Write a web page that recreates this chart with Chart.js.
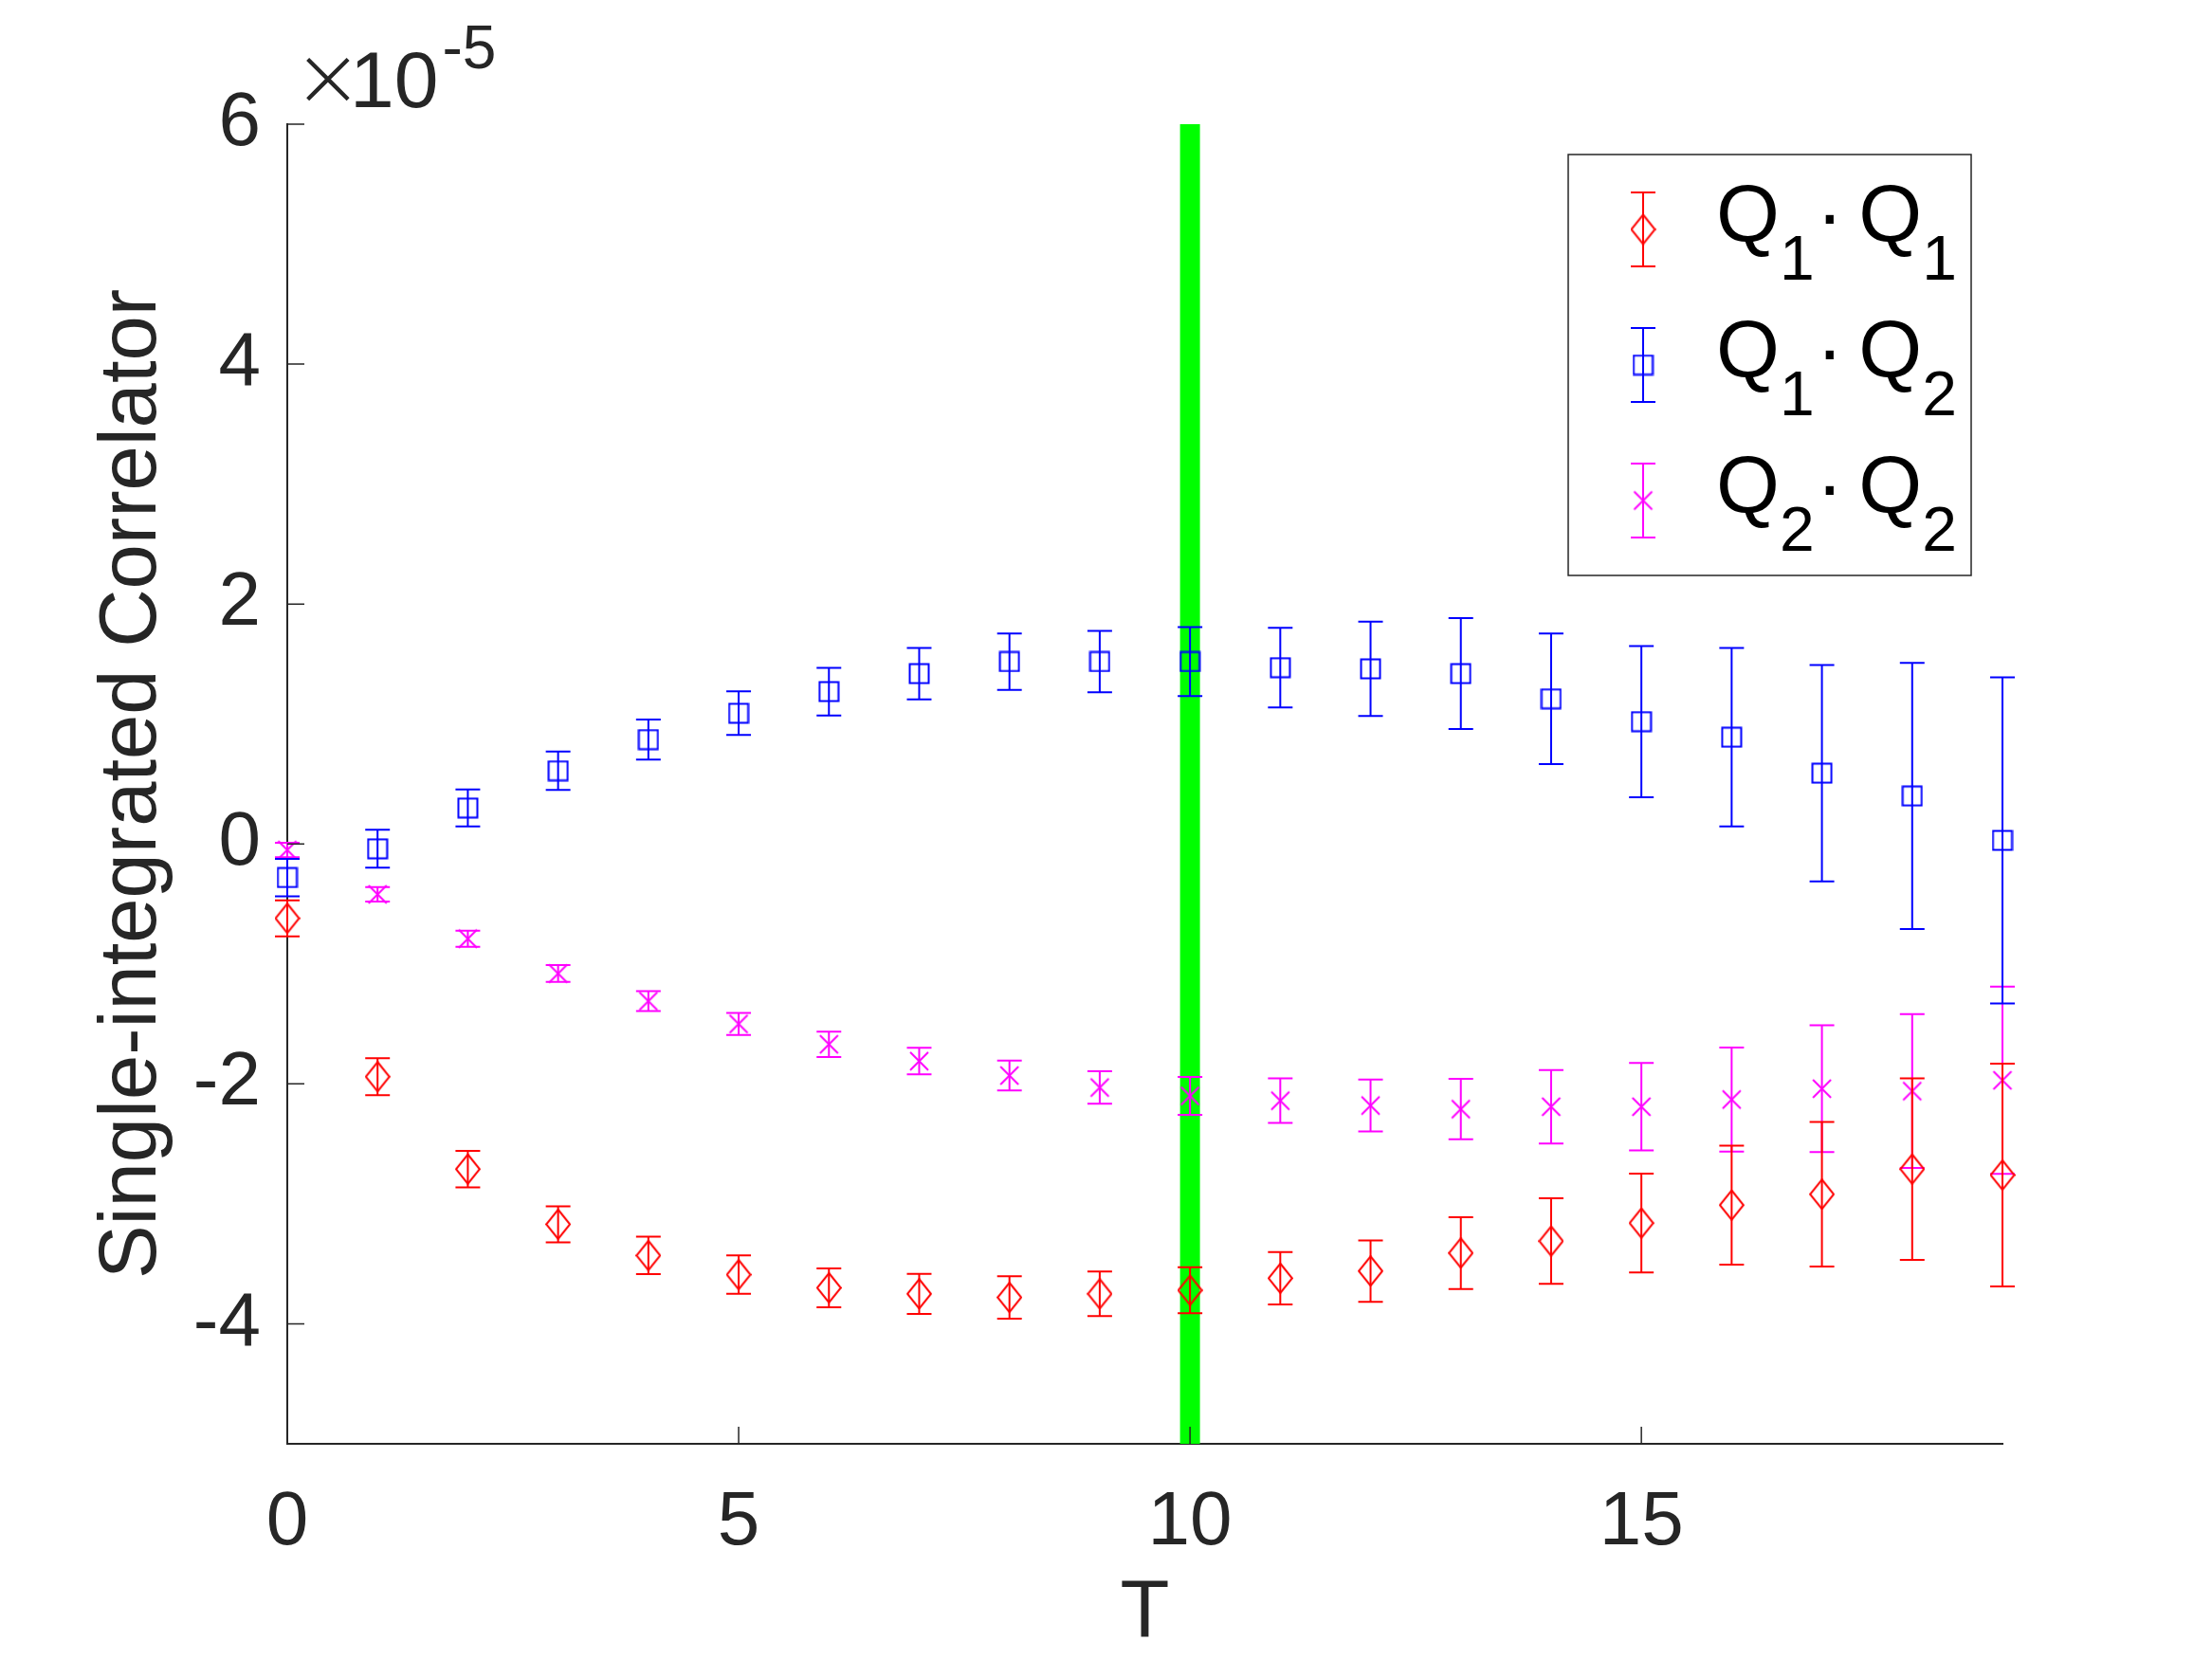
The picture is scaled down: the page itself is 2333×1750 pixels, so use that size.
<!DOCTYPE html>
<html>
<head>
<meta charset="utf-8">
<title>Single-integrated Correlator</title>
<script src="https://cdn.jsdelivr.net/npm/chart.js@4.4.1/dist/chart.umd.min.js"></script>
<style>
  html, body { margin: 0; padding: 0; background: #fff; }
  canvas { display: block; }
</style>
</head>
<body>
<canvas id="chart" width="2333" height="1750"></canvas>
<script>
// values are in units of 1e-5
const T = [0, 1, 2, 3, 4, 5, 6, 7, 8, 9, 10, 11, 12, 13, 14, 15, 16, 17, 18, 19];

const q11 = [-0.62, -1.94, -2.71, -3.17, -3.43, -3.59, -3.70, -3.75, -3.78, -3.75,
  -3.72, -3.62, -3.56, -3.41, -3.31, -3.16, -3.01, -2.92, -2.71, -2.76];
const q11Err = [0.15, 0.154, 0.152, 0.15, 0.156, 0.16, 0.162, 0.167, 0.177, 0.186,
  0.192, 0.218, 0.256, 0.299, 0.357, 0.412, 0.496, 0.603, 0.756, 0.929];

const q12 = [-0.28, -0.04, 0.30, 0.61, 0.87, 1.09, 1.27, 1.42, 1.52, 1.52,
  1.52, 1.47, 1.46, 1.42, 1.21, 1.02, 0.89, 0.59, 0.40, 0.03];
const q12Err = [0.156, 0.158, 0.154, 0.16, 0.167, 0.182, 0.199, 0.214, 0.235, 0.256,
  0.288, 0.331, 0.393, 0.462, 0.545, 0.63, 0.744, 0.902, 1.109, 1.359];

const q22 = [-0.05, -0.42, -0.79, -1.08, -1.31, -1.50, -1.67, -1.81, -1.93, -2.03,
  -2.10, -2.14, -2.18, -2.21, -2.19, -2.19, -2.13, -2.04, -2.06, -1.97];
const q22Err = [0.06, 0.06, 0.068, 0.07, 0.083, 0.092, 0.105, 0.111, 0.124, 0.135,
  0.158, 0.186, 0.216, 0.252, 0.306, 0.365, 0.434, 0.528, 0.641, 0.78];

const xTicks = [0, 5, 10, 15];
const yTicks = [-4, -2, 0, 2, 4, 6];
const markT = 10;
const legendLabels = [['Q', '1', 'Q', '1'], ['Q', '1', 'Q', '2'], ['Q', '2', 'Q', '2']];

const FONT = "'Liberation Sans', Arial, Helvetica, sans-serif";
const INK = '#262626';

function marker(kind, color) {
  const c = document.createElement('canvas');
  const w = kind === 'diamond' ? 27 : 23;
  const h = kind === 'diamond' ? 33 : 23;
  c.width = w; c.height = h;
  const g = c.getContext('2d');
  g.strokeStyle = color;
  g.lineWidth = 2;
  g.beginPath();
  if (kind === 'diamond') {
    g.moveTo(w / 2, 1); g.lineTo(w - 1, h / 2); g.lineTo(w / 2, h - 1); g.lineTo(1, h / 2);
    g.closePath();
  } else if (kind === 'square') {
    g.rect(1.5, 1.5, w - 3, h - 3);
  } else {
    g.moveTo(2, 2); g.lineTo(w - 2, h - 2);
    g.moveTo(w - 2, 2); g.lineTo(2, h - 2);
  }
  g.stroke();
  return c;
}

const pts = vals => T.map((t, i) => ({ x: t, y: vals[i] }));

function series(vals, errs, color, kind) {
  return {
    data: pts(vals),
    errors: errs,
    borderColor: color,
    backgroundColor: 'rgba(0,0,0,0)',
    pointStyle: marker(kind, color),
    pointRadius: 12,
    pointHoverRadius: 12,
    showLine: false,
    clip: false,
  };
}

const errorBars = {
  id: 'errorBars',
  afterDatasetDraw(chart, args) {
    const ds = chart.data.datasets[args.index];
    if (!ds.errors) return;
    const ctx = chart.ctx;
    const y = chart.scales.y;
    ctx.save();
    ctx.strokeStyle = ds.borderColor;
    ctx.lineWidth = 2;
    args.meta.data.forEach((pt, i) => {
      const v = ds.data[i].y, e = ds.errors[i];
      const top = y.getPixelForValue(v + e);
      const bot = y.getPixelForValue(v - e);
      ctx.beginPath();
      ctx.moveTo(pt.x, top); ctx.lineTo(pt.x, bot);
      ctx.moveTo(pt.x - 13, top); ctx.lineTo(pt.x + 13, top);
      ctx.moveTo(pt.x - 13, bot); ctx.lineTo(pt.x + 13, bot);
      ctx.stroke();
    });
    ctx.restore();
  }
};

const decorations = {
  id: 'decorations',
  afterDraw(chart) {
    const ctx = chart.ctx;
    const { x, y } = chart.scales;
    const area = chart.chartArea;
    ctx.save();
    // inward tick marks
    ctx.strokeStyle = INK;
    ctx.lineWidth = 1.5;
    ctx.beginPath();
    x.ticks.forEach(t => {
      const px = x.getPixelForValue(t.value);
      ctx.moveTo(px, area.bottom); ctx.lineTo(px, area.bottom - 18);
    });
    y.ticks.forEach(t => {
      const py = y.getPixelForValue(t.value);
      ctx.moveTo(area.left, py); ctx.lineTo(area.left + 18, py);
    });
    ctx.stroke();

    // exponent multiplier
    ctx.fillStyle = INK;
    ctx.textBaseline = 'alphabetic';
    ctx.textAlign = 'left';
    const my = area.top - 18;
    ctx.font = "200 88px 'DejaVu Sans', " + FONT;
    ctx.fillText('\u00d7', area.left + 6, my - 2);
    ctx.font = '84px ' + FONT;
    ctx.fillText('10', area.left + 66, my);
    const mw = ctx.measureText('10').width;
    ctx.font = '64px ' + FONT;
    ctx.fillText('-5', area.left + 66 + mw + 4, my - 41);

    // legend
    const bw = 425, bh = 444;
    const bx = area.right - 458, by = area.top + 32;
    ctx.fillStyle = '#fff';
    ctx.fillRect(bx, by, bw, bh);
    ctx.strokeStyle = INK;
    ctx.lineWidth = 1.5;
    ctx.strokeRect(bx, by, bw, bh);
    const sets = chart.data.datasets.filter(d => d.errors);
    sets.forEach((ds, i) => {
      const cy = by + 79 + i * 143;
      const cx = bx + 79;
      ctx.strokeStyle = ds.borderColor;
      ctx.lineWidth = 2;
      ctx.beginPath();
      ctx.moveTo(cx, cy - 39); ctx.lineTo(cx, cy + 39);
      ctx.moveTo(cx - 13, cy - 39); ctx.lineTo(cx + 13, cy - 39);
      ctx.moveTo(cx - 13, cy + 39); ctx.lineTo(cx + 13, cy + 39);
      ctx.stroke();
      const m = ds.pointStyle;
      ctx.drawImage(m, cx - m.width / 2, cy - m.height / 2);

      const lab = legendLabels[i];
      const base = cy + 13;
      let tx = bx + 156;
      ctx.fillStyle = '#000';
      const big = '86px ' + FONT, small = '66px ' + FONT;
      const part = (txt, font, dy) => {
        ctx.font = font;
        ctx.fillText(txt, tx, base + dy);
        tx += ctx.measureText(txt).width;
      };
      part(lab[0], big, 0);
      part(lab[1], small, 40);
      tx += 2;
      part('\u00b7', big, 0);
      tx += 16;
      part(lab[2], big, 0);
      part(lab[3], small, 40);
    });
    ctx.restore();
  }
};

const ctx = document.getElementById('chart').getContext('2d');
new Chart(ctx, {
  type: 'scatter',
  data: {
    datasets: [
      series(q11, q11Err, '#ff0000', 'diamond'),
      series(q12, q12Err, '#0000ff', 'square'),
      series(q22, q22Err, '#ff00ff', 'cross'),
      {
        data: [{ x: markT, y: -5 }, { x: markT, y: 6 }],
        showLine: true,
        borderColor: '#00ff00',
        borderWidth: 21,
        pointRadius: 0,
        fill: false,
      },
    ],
  },
  options: {
    responsive: false,
    devicePixelRatio: 1,
    animation: false,
    layout: { padding: { left: 0, top: 131, right: 221, bottom: 0 } },
    plugins: {
      legend: { display: false },
      tooltip: { enabled: false },
    },
    scales: {
      x: {
        type: 'linear',
        min: 0,
        max: 19,
        grid: { display: false, drawTicks: false },
        border: { display: true, color: INK, width: 2 },
        afterBuildTicks: s => { s.ticks = xTicks.map(v => ({ value: v })); },
        afterFit: s => { s.height = 227; },
        ticks: {
          padding: 36,
          color: INK,
          font: { size: 80, family: FONT },
          callback: v => String(v),
        },
        title: {
          display: true,
          text: 'T',
          color: INK,
          font: { size: 85, family: FONT },
          padding: { top: 0, bottom: -4 },
        },
      },
      y: {
        type: 'linear',
        min: -5,
        max: 6,
        grid: { display: false, drawTicks: false },
        border: { display: true, color: INK, width: 2 },
        afterBuildTicks: s => { s.ticks = yTicks.map(v => ({ value: v })); },
        afterFit: s => { s.width = 303; },
        ticks: {
          padding: 28,
          color: INK,
          font: { size: 80, family: FONT },
          callback: v => String(v),
        },
        title: {
          display: true,
          text: 'Single-integrated Correlator',
          color: INK,
          font: { size: 85, family: FONT },
          padding: { top: 90, bottom: 0 },
        },
      },
    },
  },
  plugins: [errorBars, decorations],
});
</script>
</body>
</html>
